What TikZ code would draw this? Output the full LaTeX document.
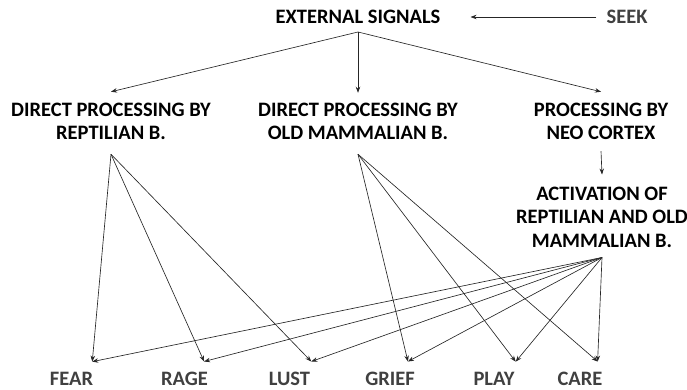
\documentclass[tikz,border=0pt]{standalone}
\usepackage{fontspec}
\setmainfont{Carlito}
\usetikzlibrary{arrows.meta}
\begin{document}
\begin{tikzpicture}[x=1pt, y=-1pt,
        stage/.style={font=\bfseries\fontsize{20.5}{23.5}\selectfont, align=center, inner sep=0pt},
        emotion/.style={font=\bfseries\fontsize{20.5}{23.5}\selectfont, text=black!75, inner sep=0pt},
        link/.style={-{Stealth[length=6pt, width=4.5pt]}, line width=0.65pt, black!85}]
        \useasboundingbox (0,0) rectangle (687,390);

        % Signals and the three processing paths
        \node[stage] (ext) at (358,17) {EXTERNAL SIGNALS};
        \node[emotion] (seek) at (627,17) {SEEK};
        \node[stage] (rept) at (111,121.5) {DIRECT PROCESSING BY\\REPTILIAN B.};
        \node[stage] (mamm) at (358,121.5) {DIRECT PROCESSING BY\\OLD MAMMALIAN B.};
        \node[stage] (neo) at (601,121.5) {PROCESSING BY\\NEO CORTEX};
        \node[stage] (act) at (602,217) {ACTIVATION OF\\REPTILIAN AND OLD\\MAMMALIAN B.};

        \draw[link] ([xshift=-10pt]seek.west) -- ([xshift=30pt]ext.east);
        \coordinate (extapex) at ([yshift=-8pt]ext.south);
        \draw[link] (extapex) -- ([yshift=11pt]rept.north);
        \draw[link] (extapex) -- ([yshift=10pt]mamm.north);
        \draw[link] (extapex) -- ([yshift=11pt]neo.north);
        \draw[link] ([yshift=-11pt]neo.south) -- ([yshift=12pt]act.north);

        % Emotions
        \node[emotion] (fear) at (71.5,378.5) {FEAR};
        \node[emotion] (rage) at (184.5,378.5) {RAGE};
        \node[emotion] (lust) at (289.5,378.5) {LUST};
        \node[emotion] (grief) at (390,378.5) {GRIEF};
        \node[emotion] (play) at (494,378.5) {PLAY};
        \node[emotion] (care) at (580,378.5) {CARE};

        \coordinate (reptapex) at ([yshift=-14pt]rept.south);
        \coordinate (mammapex) at ([yshift=-14pt]mamm.south);
        \coordinate (actapex) at ([yshift=-10pt]act.south);

        \draw[link] (reptapex) -- ([shift={(-1pt,10pt)}]fear.north east);
        \draw[link] (reptapex) -- ([shift={(-4pt,10pt)}]rage.north east);
        \draw[link] (reptapex) -- ([shift={(1pt,10pt)}]lust.north east);

        \draw[link] (mammapex) -- ([shift={(-7pt,10pt)}]grief.north east);
        \draw[link] (mammapex) -- ([shift={(1pt,10pt)}]play.north east);
        \draw[link] (mammapex) -- ([shift={(-5pt,10pt)}]care.north east);

        \draw[link] (actapex) -- ([shift={(-1pt,10pt)}]fear.north east);
        \draw[link] (actapex) -- ([shift={(-4pt,10pt)}]rage.north east);
        \draw[link] (actapex) -- ([shift={(1pt,10pt)}]lust.north east);
        \draw[link] (actapex) -- ([shift={(-7pt,10pt)}]grief.north east);
        \draw[link] (actapex) -- ([shift={(1pt,10pt)}]play.north east);
        \draw[link] (actapex) -- ([shift={(-5pt,10pt)}]care.north east);
\end{tikzpicture}
\end{document}
